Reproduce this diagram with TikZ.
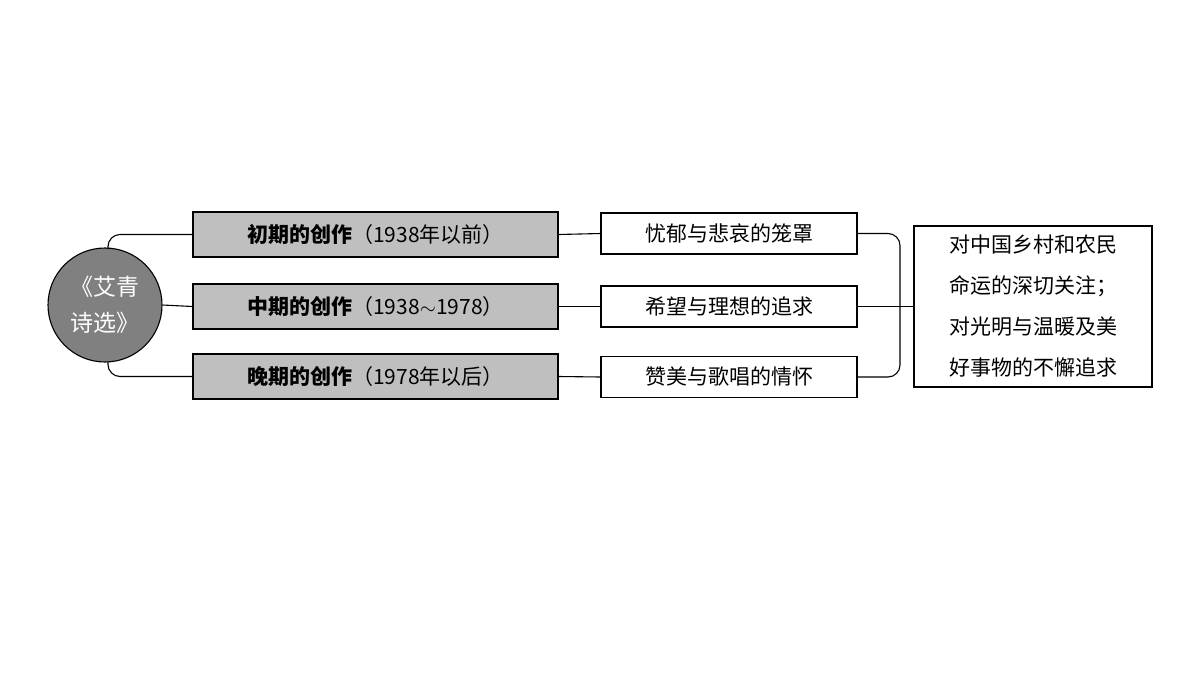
\documentclass[tikz,border=0pt]{standalone}
\usepackage{fontspec}
\setmainfont{Liberation Serif}
\newfontfamily\cjk{Noto Sans CJK SC}
\newfontfamily\cjkb{Noto Sans CJK SC}[BoldFont={* Bold},FakeBold=0]
\begin{document}
\begin{tikzpicture}[x=1pt,y=-1pt,line width=1.1pt,
  gbox/.style={draw,fill=black!25,minimum width=365pt,minimum height=45pt,inner sep=0pt,font=\cjk\fontsize{21}{24}\selectfont},
  wbox/.style={draw,fill=white,minimum width=256pt,minimum height=41pt,inner sep=0pt,font=\cjk\fontsize{21}{24}\selectfont},
  conn/.style={line width=1.1pt,rounded corners=12pt}]
\useasboundingbox (0,0) rectangle (1200,675);
\node[circle,draw,fill=black!50,minimum size=114pt,inner sep=0pt,align=center,text=white,font=\cjk\fontsize{23}{36}\selectfont] (c) at (105,305) {《艾青\\诗选》};
\node[gbox] (g1) at (375.5,234.5) {\textbf{初期的创作}（1938年以前）};
\node[gbox] (g2) at (375.5,306.5) {\textbf{中期的创作}（1938$\sim$1978）};
\node[gbox] (g3) at (375.5,376.5) {\textbf{晚期的创作}（1978年以后）};
\node[wbox] (w1) at (729,233.5) {忧郁与悲哀的笼罩};
\node[wbox] (w2) at (729,306.5) {希望与理想的追求};
\node[wbox] (w3) at (729,377) {赞美与歌唱的情怀};
\node[draw,minimum width=238pt,minimum height=161pt,inner sep=6pt,align=left,font=\cjk\fontsize{21}{41}\selectfont] (r) at (1033,306.5) {对中国乡村和农民\\命运的深切关注；\\对光明与温暖及美\\好事物的不懈追求};
\coordinate (ct) at (108,249);
\coordinate (cb) at (108,362);
\draw[conn] (ct) |- (g1.west);
\draw[conn] (cb) |- (g3.west);
\draw (c.east) -- (g2.west);
\draw (g1.east) -- (w1.west);
\draw (g2.east) -- (w2.west);
\draw (g3.east) -- (w3.west);
\coordinate (bx) at (900,306.5);
\draw[conn] (w1.east) -| (bx) |- (w3.east);
\draw (w2.east) -- (r.west);
\end{tikzpicture}
\end{document}
